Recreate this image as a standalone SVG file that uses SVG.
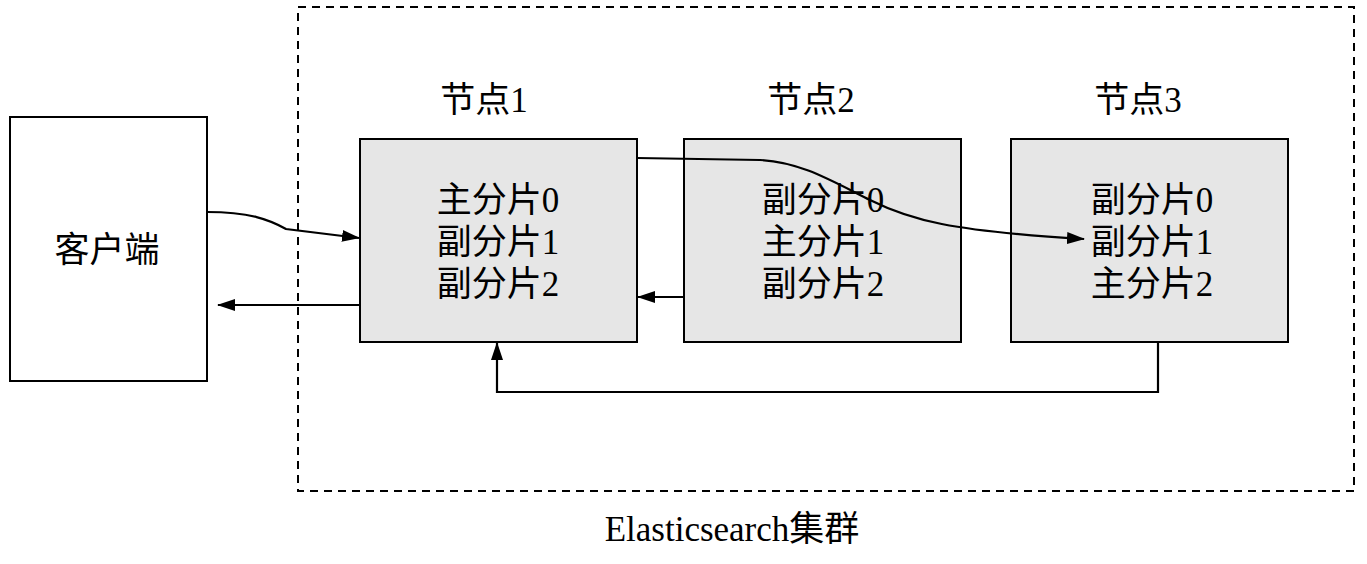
<svg xmlns="http://www.w3.org/2000/svg" width="1367" height="564" viewBox="0 0 1367 564">
<defs>
<style>
.box{fill:#fff;stroke:#000;stroke-width:2}
.node{fill:#e6e6e6;stroke:#000;stroke-width:2}
.dash{fill:none;stroke:#000;stroke-width:2;stroke-dasharray:8,6}
.t{font-family:"Liberation Serif","Noto Sans CJK SC",serif;font-size:35px;fill:#000;text-anchor:middle}
.c{fill:none;stroke:#000;stroke-width:2.2}
</style>
<marker id="ah" markerWidth="18" markerHeight="12" refX="17" refY="6" orient="auto" markerUnits="userSpaceOnUse">
<path d="M0,0 L18,6 L0,12 Z" fill="#000"/>
</marker>
</defs>
<rect width="1367" height="564" fill="#fff"/>
<g id="cluster">
<rect class="dash" x="298" y="7" width="1056" height="484"/>
<text class="t" x="732" y="541">Elasticsearch集群</text>
</g>
<g id="client">
<rect class="box" x="10" y="117" width="197" height="264"/>
<text class="t" x="107" y="262">客户端</text>
</g>
<g id="node1">
<text class="t" x="484" y="112">节点1</text>
<rect class="node" x="360" y="139" width="277" height="203"/>
<text class="t" x="498" y="212">主分片0</text>
<text class="t" x="498" y="254">副分片1</text>
<text class="t" x="498" y="296">副分片2</text>
</g>
<g id="node2">
<text class="t" x="811" y="112">节点2</text>
<rect class="node" x="684" y="139" width="277" height="203"/>
<text class="t" x="823" y="212">副分片0</text>
<text class="t" x="823" y="254">主分片1</text>
<text class="t" x="823" y="296">副分片2</text>
</g>
<g id="node3">
<text class="t" x="1138" y="112">节点3</text>
<rect class="node" x="1011" y="139" width="277" height="203"/>
<text class="t" x="1152" y="212">副分片0</text>
<text class="t" x="1152" y="254">副分片1</text>
<text class="t" x="1152" y="296">主分片2</text>
</g>
<g id="connectors">
<path class="c" d="M207,212 C250,212 270,220 286,229 L359,238" marker-end="url(#ah)"/>
<path class="c" d="M360,305 L218,305" marker-end="url(#ah)"/>
<path class="c" d="M684,297 L638,297" marker-end="url(#ah)"/>
<path class="c" d="M637,158 L760,160 C800,162 830,180 870,200 C910,220 950,231 1084,239" marker-end="url(#ah)"/>
<path class="c" d="M1158,342 L1158,392 L497,392 L497,343" marker-end="url(#ah)"/>
</g>
</svg>
